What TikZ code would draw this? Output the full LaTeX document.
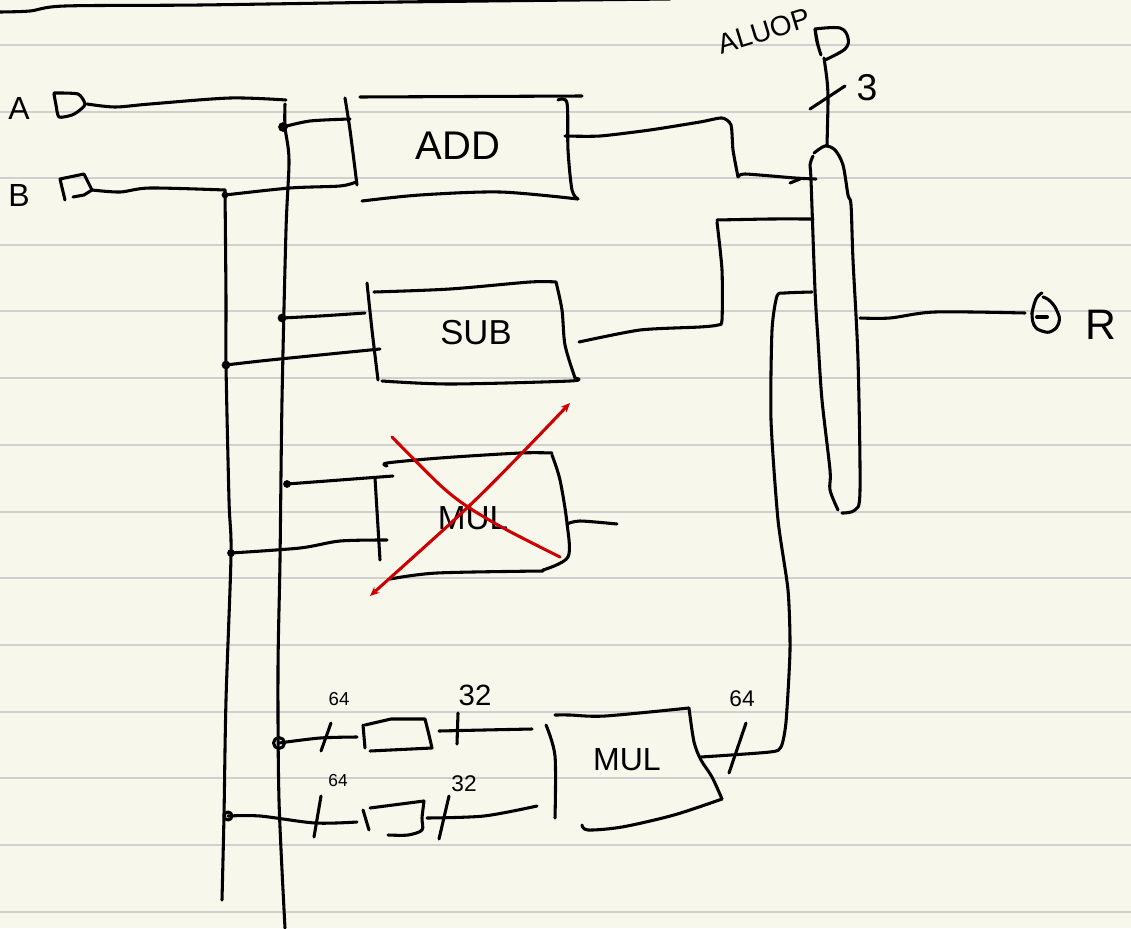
\documentclass[tikz,border=0pt]{standalone}
\usepackage{fontspec}
\setmainfont{Liberation Sans}
\usetikzlibrary{arrows.meta}

\definecolor{paperbg}{RGB}{248,247,235}
\definecolor{ruleline}{RGB}{208,208,208}
\definecolor{crossred}{RGB}{204,0,0}

\tikzset{every picture/.style={line width=0.75pt}}
\tikzset{
  ink/.style={line width=2.3pt,line cap=round,line join=round},
  rule/.style={color=ruleline,line width=1.5pt},
  crossink/.style={color=crossred,line width=2.3pt,line cap=round,line join=round},
  joint/.style={fill=black,draw=black,line width=1.2pt},
  lab/.style={inner sep=0.75pt,font=\fontsize{#1}{#1}\selectfont}
}

\begin{document}
\begin{tikzpicture}[x=0.75pt,y=0.75pt,yscale=-1,xscale=1]
\useasboundingbox (0,0) rectangle (1131,928);
\fill [paperbg] (0,0) rectangle (1131,928);

%Ruled lines
\foreach \ypos in {45,111.5,178,244.5,311,378,445,512,578,645,712,778,845,912}
  \draw [rule] (0,\ypos) -- (1131,\ypos);

%Top stroke
\draw [ink] plot [smooth,tension=.5] coordinates {(0,12) (30,11) (65,6) (200,5) (400,2) (670,-1)};

% Named ends of the wires
\coordinate (portA) at (87,104);
\coordinate (portB) at (92,190);
\coordinate (dotA) at (283,127);
\coordinate (dotB) at (225,195);
\coordinate (dotSubA) at (282,318);
\coordinate (dotSubB) at (226,365);
\coordinate (dotMulA) at (287,484);
\coordinate (dotMulB) at (231,553);
\coordinate (dotCutA) at (279,743);
\coordinate (dotCutB) at (228,816);
\coordinate (addIn1) at (350,119);
\coordinate (addIn2) at (356,182);
\coordinate (addOut) at (565,136);
\coordinate (subIn1) at (365,313);
\coordinate (subIn2) at (380,349);
\coordinate (subOut) at (579,342);
\coordinate (mulIn1) at (393,476);
\coordinate (mulIn2) at (387,540);
\coordinate (muxIn1) at (816,179);
\coordinate (muxIn2) at (813,219);
\coordinate (muxIn3) at (812,292);
\coordinate (muxTop) at (827,145);
\coordinate (muxOut) at (860,318);
\coordinate (portOp) at (824,58);
\coordinate (portR) at (1025,313);
\coordinate (mulOut) at (701,757);

%Pins
\draw [ink] plot [smooth,tension=.4] coordinates {(54,94) (56,105) (59,117) (72,115) (80,110) (85,104) (78,94) (54,93)};
\draw [ink] (65,200) -- (60,179) -- (84,174) -- (92,190);
\draw [ink] (92,190) -- (84,195) -- (73,197);
\draw [ink] plot [smooth,tension=.6] coordinates {(815,29) (818,45) (821,55) (817,42) (815,29)};
\draw [ink] plot [smooth,tension=.6] coordinates {(815,29) (840,28) (848,38) (845,49) (825,60)};
\draw [ink] plot [smooth,tension=.8] coordinates {(1032,313) (1036,299) (1042,293)};
\draw [ink] plot [smooth,tension=.8] coordinates {(1032,313) (1034,325) (1042,331) (1052,331) (1059,322) (1057,311) (1050,301) (1043,297)};
\draw [ink,line width=3pt] (1037,317) -- (1047,317);

%Busses
\draw [ink] plot [smooth,tension=.5] coordinates {(285,104) (285,127) (289,160) (286,230) (282,400) (280,560) (278,670) (279,800) (285,928)};
\draw [ink] plot [smooth,tension=.5] coordinates {(225,190) (226,300) (226,365) (229,500) (231,555) (226,700) (224,815) (222,900)};

%Input wires
\draw [ink] plot [smooth,tension=.5] coordinates {(portA) (115,107) (150,104) (230,98) (286,100)};
\draw [ink] plot [smooth,tension=.5] coordinates {(portB) (120,192) (150,188) (225,190)};
\draw [ink] plot [smooth,tension=.5] coordinates {(dotA) (310,121) (addIn1)};
\draw [ink] plot [smooth,tension=.5] coordinates {(dotB) (290,188) (340,186) (addIn2)};
\draw [ink] plot [smooth,tension=.5] coordinates {(dotSubA) (320,316) (subIn1)};
\draw [ink] plot [smooth,tension=.5] coordinates {(dotSubB) (270,360) (subIn2)};
\draw [ink] plot [smooth,tension=.5] coordinates {(dotMulA) (340,480) (mulIn1)};
\draw [ink] plot [smooth,tension=.5] coordinates {(dotMulB) (300,548) (340,541) (mulIn2)};

%Junction dots
\fill [joint] (dotA) circle [radius=4];
\fill [joint] (dotB) circle [radius=2.5];
\fill [joint] (dotSubA) circle [radius=3.5];
\fill [joint] (dotSubB) circle [radius=3.5];
\fill [joint] (dotMulA) circle [radius=3];
\fill [joint] (dotMulB) circle [radius=3];
\draw [ink] (dotCutA) circle [radius=5.5];
\draw [ink] (dotCutB) circle [radius=4];

%ADD box
\draw [ink] plot [smooth,tension=.5] coordinates {(345,98) (350,130) (357,185)};
\draw [ink] (360,97) -- (582,96);
\draw [ink] plot [smooth,tension=.5] coordinates {(362,201) (420,195) (500,192) (578,199)};
\draw [ink] plot [smooth,tension=.5] coordinates {(558,100) (567,103) (568,150) (572,190) (578,199)};

%SUB box
\draw [ink] plot [smooth,tension=.5] coordinates {(367,283) (372,330) (378,380)};
\draw [ink] plot [smooth,tension=.5] coordinates {(374,292) (450,289) (530,282) (556,282)};
\draw [ink] plot [smooth,tension=.5] coordinates {(556,282) (562,310) (565,345) (575,378)};
\draw [ink] plot [smooth,tension=.5] coordinates {(382,381) (450,384) (570,381) (575,378)};

%MUL box, crossed out
\draw [ink] (375,478) -- (380,560);
\draw [ink] plot [smooth,tension=.5] coordinates {(387,466) (387,463) (440,458) (520,453) (552,453)};
\draw [ink] plot [smooth,tension=.5] coordinates {(552,455) (560,480) (567,523) (568,557) (543,570)};
\draw [ink] plot [smooth,tension=.5] coordinates {(390,579) (437,573) (543,571)};
\draw [ink] plot [smooth,tension=.5] coordinates {(567,524) (580,521) (617,524)};

%Output wires
\draw [ink] plot [smooth,tension=.4] coordinates {(addOut) (600,136) (650,130) (700,122) (722,118) (731,125) (733,150) (738,177)};
\draw [ink] plot [smooth,tension=.4] coordinates {(738,177) (745,174) (795,178) (muxIn1)};
\draw [ink] (790,183) -- (800,179);
\draw [ink] plot [smooth,tension=.4] coordinates {(subOut) (640,330) (700,327) (718,325) (722,320) (722,270) (717,222)};
\draw [ink] plot [smooth,tension=.4] coordinates {(717,220) (770,219) (muxIn2)};
\draw [ink] plot [smooth,tension=.4] coordinates {(mulOut) (770,752)(781,747) (786,722) (790,650) (788,590) (778,520) (771,420) (772,330) (777,296) (785,293) (muxIn3)};

%Mux
\draw [ink] plot [smooth,tension=.5] coordinates {(813,156) (810,165) (811,180) (815,290) (818,340) (822,400) (830,470) (830,490) (838,510)};
\draw [ink] plot [smooth,tension=.5] coordinates {(814,153) (825,146) (835,150) (843,165) (848,195) (851,205) (853,260) (858,360) (860,490) (855,510) (842,513)};
\draw [ink] plot [smooth,tension=.5] coordinates {(portOp) (827,80) (828,100) (muxTop)};
\draw [ink] (810,109) -- (845,86);
\draw [ink] plot [smooth,tension=.5] coordinates {(muxOut) (890,318) (935,312) (portR)};

%Lower MUL, narrow inputs
\draw [ink] plot [smooth,tension=.5] coordinates {(dotCutA) (320,738) (357,737)};
\draw [ink] (331,723) -- (321,751);
\draw [ink] (363,725) -- (365,748);
\draw [ink] (365,725) -- (391,719) -- (425,719) -- (429,735) -- (432,748) -- (370,751);
\draw [ink] plot [smooth,tension=.5] coordinates {(439,731) (484,730) (532,729)};
\draw [ink] (458,713) -- (457,744);
\draw [ink] plot [smooth,tension=.5] coordinates {(dotCutB) (260,816) (315,823) (357,822)};
\draw [ink] (321,796) -- (314,837);
\draw [ink] (363,810) -- (369,830);
\draw [ink] (370,808) -- (424,801);
\draw [ink] plot [smooth,tension=.5] coordinates {(424,801) (422,818) (422,830) (408,835) (388,835)};
\draw [ink] plot [smooth,tension=.5] coordinates {(427,818) (484,816) (537,806)};
\draw [ink] (449,796) -- (439,839);

%Lower MUL box
\draw [ink] plot [smooth,tension=.5] coordinates {(546,725) (555,756) (555,818)};
\draw [ink] plot [smooth,tension=.5] coordinates {(555,715) (570,715) (605,716) (689,708)};
\draw [ink] plot [smooth,tension=.5] coordinates {(689,708) (694,742) (701,760) (712,777) (722,799)};
\draw [ink] plot [smooth,tension=.5] coordinates {(722,799) (674,815) (622,827) (588,830) (582,825)};
\draw [ink] (746,723) -- (729,773);

% Text Node
\draw (19,108) node (labA) [lab=24] {A};
% Text Node
\draw (19,195) node (labB) [lab=24] {B};
% Text Node
\draw (764,31) node (labOp) [lab=21,rotate=17] {ALUOP};
% Text Node
\draw (867,88) node (labThree) [lab=28] {3};
% Text Node
\draw (1101,325) node (labR) [lab=32] {R};
% Text Node
\draw (458,146) node (labAdd) [lab=30] {ADD};
% Text Node
\draw (476,333) node (labSub) [lab=26] {SUB};
% Text Node
\draw (473,518) node (labMulOld) [lab=25] {MUL};
% Text Node
\draw (627,760) node (labMul) [lab=24] {MUL};
% Text Node
\draw (339,699) node (labWideA) [lab=14] {64};
% Text Node
\draw (475,695) node (labHalfA) [lab=22] {32};
% Text Node
\draw (338,781) node (labWideB) [lab=13] {64};
% Text Node
\draw (464,784) node (labHalfB) [lab=17] {32};
% Text Node
\draw (742,699) node (labWideOut) [lab=17] {64};

%Red cross
\draw [crossink] plot [smooth,tension=.5] coordinates {(392,437) (440,485) (468,507) (507,530) (560,557)};
\draw [crossink,{Stealth[length=7pt,width=6pt]}-{Stealth[length=7pt,width=6pt]}] plot [smooth,tension=.5] coordinates {(370,596) (468,507) (523,452) (570,403)};

\end{tikzpicture}
\end{document}
